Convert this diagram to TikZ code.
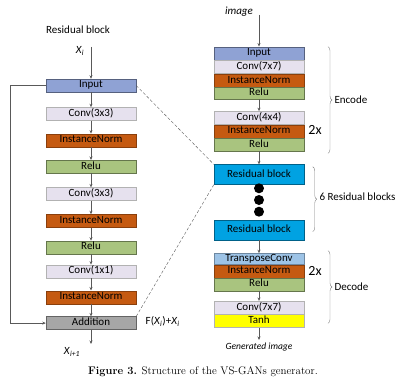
\documentclass[tikz,border=0pt]{standalone}
\usepackage{xcolor}
\usepackage{fontspec}
\setsansfont{Carlito}
\usetikzlibrary{arrows.meta, positioning, decorations.pathreplacing}

\definecolor{inputC}{HTML}{8FA2D4}
\definecolor{convC}{HTML}{E6E1EE}
\definecolor{normC}{HTML}{C55A11}
\definecolor{reluC}{HTML}{A9C47F}
\definecolor{addC}{HTML}{A6A6A6}
\definecolor{resC}{HTML}{00A2E2}
\definecolor{transC}{HTML}{9DC3E6}
\definecolor{tanhC}{HTML}{FFFF00}
\definecolor{lineC}{HTML}{595959}

\begin{document}
\begin{tikzpicture}[
    x=1pt, y=-1pt,
    >={Stealth[length=3.5pt, width=3pt]},
    font=\fontsize{11}{12}\sffamily,
    layer/.style={rectangle, draw, minimum width=90pt, minimum height=13pt, inner sep=0pt, text height=7pt, text depth=2pt},
    inputbox/.style={layer, fill=inputC, draw=inputC!60!black},
    convbox/.style={layer, fill=convC, draw=gray!60},
    normbox/.style={layer, fill=normC, draw=normC!70!black},
    relubox/.style={layer, fill=reluC, draw=reluC!60!black},
    addbox/.style={layer, fill=addC, draw=addC!60!black},
    resbox/.style={layer, fill=resC, draw=resC!60!black, minimum height=20pt},
    transbox/.style={layer, fill=transC, draw=transC!70!black, minimum height=11pt},
    tanhbox/.style={layer, fill=tanhC, draw=gray!60},
    flow/.style={->, draw=lineC, semithick},
    link/.style={draw=lineC, dash pattern=on 3pt off 2pt},
    brace/.style={draw=gray, decorate, decoration={brace, amplitude=4pt}},
    dot/.style={circle, fill=black, inner sep=0pt, minimum size=10pt}
]
\useasboundingbox (0,0) rectangle (398,385);

% Residual block (left)
\node at (78,30) (restitle) {Residual block};
\coordinate (xin) at (91,47);
\node at (80,51) (xlabel) {\textit{X}\textsubscript{\textit{i}}};
\node[inputbox] at (91,85.5) (input) {Input};
\node[convbox, below=15pt of input] (conv1) {Conv(3x3)};
\node[normbox, below=13pt of conv1] (norm1) {InstanceNorm};
\node[relubox, below=13pt of norm1] (relu1) {Relu};
\node[convbox, below=14pt of relu1] (conv2) {Conv(3x3)};
\node[normbox, below=13.5pt of conv2] (norm2) {InstanceNorm};
\node[relubox, below=13pt of norm2] (relu2) {Relu};
\node[convbox, below=10.5pt of relu2] (conv3) {Conv(1x1)};
\node[normbox, below=12.5pt of conv3] (norm3) {InstanceNorm};
\node[addbox, below=12.5pt of norm3] (add) {Addition};
\node[right=6pt of add, yshift=1.5pt] (sumlabel) {F(\textit{X}\textsubscript{\textit{i}})+\textit{X}\textsubscript{\textit{i}}};
\coordinate (xout) at (91,344);
\node at (72,352) (xnext) {\textit{X}\textsubscript{\textit{i+1}}};

\draw[flow] (xin) -- (input);
\draw[flow] (input) -- (conv1);
\draw[flow] (conv1) -- (norm1);
\draw[flow] (norm1) -- (relu1);
\draw[flow] (relu1) -- (conv2);
\draw[flow] (conv2) -- (norm2);
\draw[flow] (norm2) -- (relu2);
\draw[flow] (relu2) -- (conv3);
\draw[flow] (conv3) -- (norm3);
\draw[flow] (norm3) -- (add);
\draw[flow] (add) -- (xout);
% skip connection
\draw[flow] (input.west) -- ++(-36,0) |- (add.west);

% Generator (right)
\node at (239,12) (imgin) {\textit{image}};
\coordinate (gin) at (259,15);
\node[inputbox, minimum height=13.5pt] at (259,53.5) (ginput) {Input};
\node[convbox, below=0pt of ginput] (gconv1) {Conv(7x7)};
\node[normbox, below=0pt of gconv1] (gnorm1) {InstanceNorm};
\node[relubox, below=0pt of gnorm1, minimum height=11.5pt] (grelu1) {Relu};
\node[convbox, below=12pt of grelu1] (gconv2) {Conv(4x4)};
\node[normbox, below=0pt of gconv2] (gnorm2) {InstanceNorm};
\node[relubox, below=0pt of gnorm2] (grelu2) {Relu};
\node[resbox, below=13pt of grelu2] (res1) {Residual block};
\foreach \i/\y in {1/188.3, 2/200, 3/211.7}
    \node[dot] at (259,\y) (dot\i) {};
\node[resbox] at (259,230) (res2) {Residual block};
\node[transbox, below=13pt of res2] (gtrans) {TransposeConv};
\node[normbox, below=0pt of gtrans] (gnorm3) {InstanceNorm};
\node[relubox, below=0pt of gnorm3, minimum height=12.5pt] (grelu3) {Relu};
\node[convbox, below=10pt of grelu3] (gconv3) {Conv(7x7)};
\node[tanhbox, below=0pt of gconv3] (gtanh) {Tanh};
\coordinate (gout) at (259,340);
\node[font=\fontsize{9.5}{11}\sffamily\itshape] at (259,347.5) (genimg) {Generated image};

\draw[flow] (gin) -- (ginput);
\draw[flow] (grelu1) -- (gconv2);
\draw[flow] (grelu2) -- (res1);
\draw[flow] (res2) -- (gtrans);
\draw[flow] (grelu3) -- (gconv3);
\draw[flow] (gtanh) -- (gout);

% dashed zoom lines
\draw[link] (input.east) -- (res1.north west);
\draw[link] (add.north east) -- (res1.south west);

% braces
\draw[brace] (328,46.7) -- (328,153.3);
\node[anchor=west] at (331,100) (encode) {Encode};
\node[font=\fontsize{14}{15}\sffamily] at (315,130) (rep1) {2x};
\draw[brace] (312.7,166.7) -- (312.7,231.7);
\node[anchor=west] at (316,197) (sixres) {6 Residual blocks};
\draw[brace] (328,250.7) -- (328,323.3);
\node[anchor=west] at (331,287) (decode) {Decode};
\node[font=\fontsize{14}{15}\sffamily] at (315,271) (rep2) {2x};

% caption
\node[font=\fontsize{11}{12}\rmfamily] at (203,372) (caption) {\textbf{Figure 3.} Structure of the VS-GANs generator.};
\end{tikzpicture}
\end{document}
